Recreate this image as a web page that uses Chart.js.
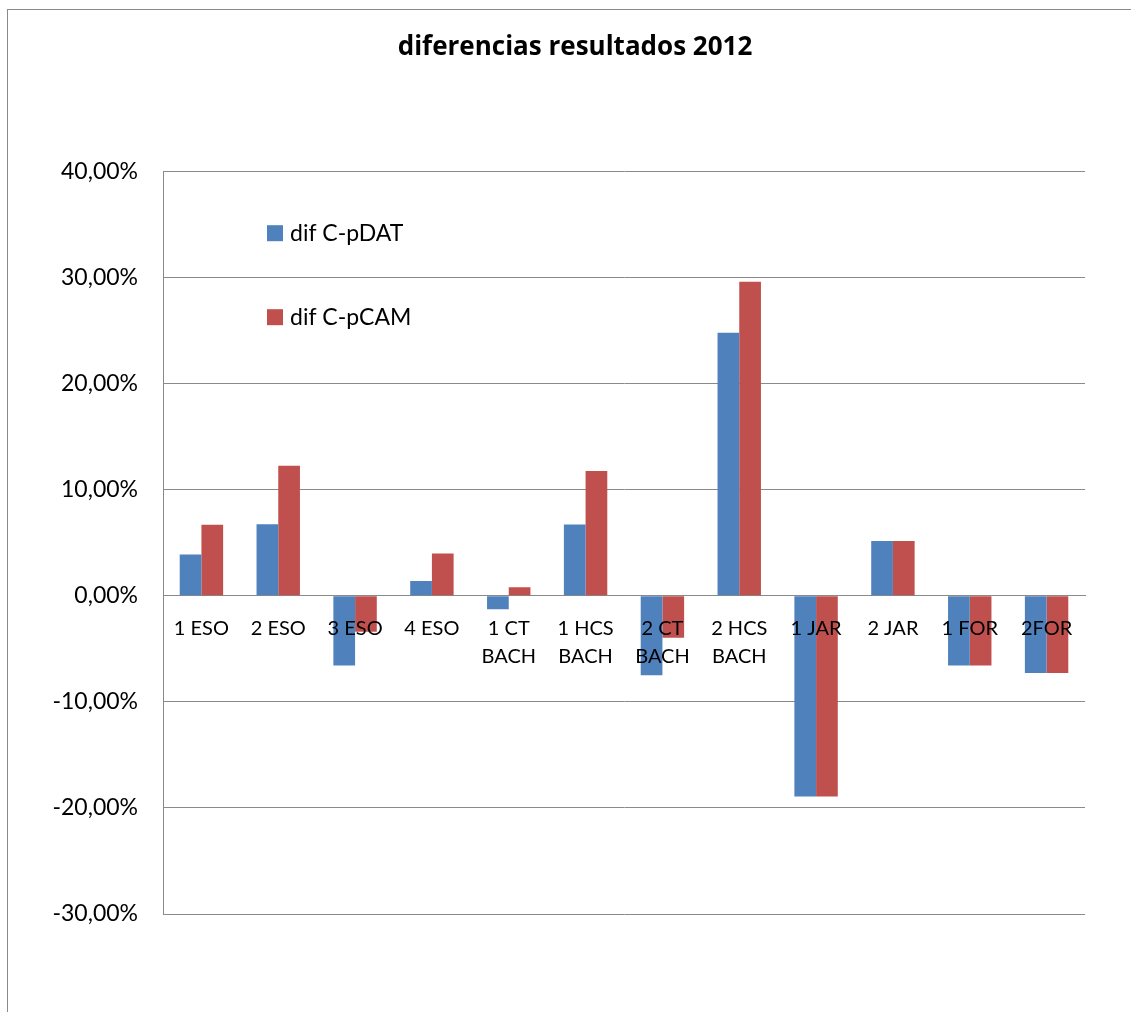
<!DOCTYPE html>
<html>
<head>
<meta charset="utf-8">
<script src="https://cdn.jsdelivr.net/npm/chart.js@4.4.0/dist/chart.umd.min.js"></script>
<style>
  html, body { margin: 0; padding: 0; background: #fff; }
  #wrap { position: relative; width: 1131px; height: 1012px; overflow: hidden; }
  #frame { position: absolute; left: 7px; top: 9px; width: 1200px; height: 1100px; border-left: 1px solid #8a8a8a; border-top: 1px solid #8a8a8a; }
  canvas { position: absolute; left: 0; top: 0; }
</style>
</head>
<body>
<div id="wrap">
  <div id="frame"></div>
  <canvas id="c" width="1131" height="1012"></canvas>
</div>
<script>
const categories = [
  "1 ESO", "2 ESO", "3 ESO", "4 ESO", ["1 CT", "BACH"], ["1 HCS", "BACH"],
  ["2 CT", "BACH"], ["2 HCS", "BACH"], "1 JAR", "2 JAR", "1 FOR", "2FOR"
];
const difCpDAT = [3.88, 6.72, -6.59, 1.38, -1.28, 6.70, -7.50, 24.77, -18.92, 5.16, -6.59, -7.28];
const difCpCAM = [6.69, 12.25, -3.40, 3.97, 0.79, 11.74, -3.97, 29.58, -18.92, 5.16, -6.59, -7.28];
const seriesNames = ["dif C-pDAT", "dif C-pCAM"];
const seriesColors = ["#4F81BD", "#C0504D"];
const yTicks = [-30, -20, -10, 0, 10, 20, 30, 40];

const FONT = "Lato, 'Open Sans', sans-serif";

// Centre the title over the plot + its label column (as in the reference)
const titleShift = {
  id: 'titleShift',
  afterLayout(chart) {
    const t = chart.titleBlock;
    if (t) {
      t.left = chart.chartArea.left - 98;
      t.right = chart.chartArea.right;
    }
  }
};

const insideLegend = {
  id: 'insideLegend',
  afterDraw(chart) {
    const ctx = chart.ctx;
    const a = chart.chartArea;
    ctx.save();
    ctx.font = "23px " + FONT;
    ctx.textBaseline = 'middle';
    ctx.textAlign = 'left';
    chart.data.datasets.forEach((ds, i) => {
      const cy = a.top + 62 + i * 84;
      const x = a.left + 104;
      ctx.fillStyle = ds.backgroundColor;
      ctx.fillRect(x, cy - 8, 16, 16);
      ctx.fillStyle = '#000';
      ctx.fillText(ds.label, x + 23, cy);
    });
    ctx.restore();
  }
};

new Chart(document.getElementById('c'), {
  type: 'bar',
  data: {
    labels: categories,
    datasets: [
      { label: seriesNames[0], data: difCpDAT, backgroundColor: seriesColors[0], borderWidth: 0 },
      { label: seriesNames[1], data: difCpCAM, backgroundColor: seriesColors[1], borderWidth: 0 }
    ]
  },
  options: {
    responsive: false,
    animation: false,
    devicePixelRatio: 1,
    layout: { padding: { left: 0, right: 46, top: 0, bottom: 98 } },
    datasets: { bar: { categoryPercentage: 0.565, barPercentage: 1.0 } },
    plugins: {
      legend: { display: false },
      tooltip: { enabled: false },
      title: {
        display: true,
        text: 'diferencias resultados 2012',
        color: '#000',
        font: { family: "'Open Sans', Lato, sans-serif", size: 26, weight: 'bold', lineHeight: 1.2 },
        padding: { top: 32, bottom: 108 }
      }
    },
    scales: {
      x: {
        position: { y: 0 },
        grid: { display: false, drawTicks: false },
        border: { display: true, color: '#8a8a8a', width: 1 },
        ticks: {
          z: 1,
          color: '#000',
          font: { family: FONT, size: 20, lineHeight: 1.4 },
          padding: 19,
          maxRotation: 0,
          autoSkip: false
        }
      },
      y: {
        min: -30,
        max: 40,
        afterFit(scale) { scale.width = 163; },
        afterBuildTicks(scale) { scale.ticks = yTicks.map(v => ({ value: v })); },
        grid: { color: '#8a8a8a', lineWidth: 1, drawTicks: false },
        border: { display: true, color: '#8a8a8a', width: 1 },
        ticks: {
          color: '#000',
          font: { family: FONT, size: 23 },
          padding: 25,
          callback: (v) => v.toFixed(2).replace('.', ',') + '%'
        }
      }
    }
  },
  plugins: [titleShift, insideLegend]
});
</script>
</body>
</html>
